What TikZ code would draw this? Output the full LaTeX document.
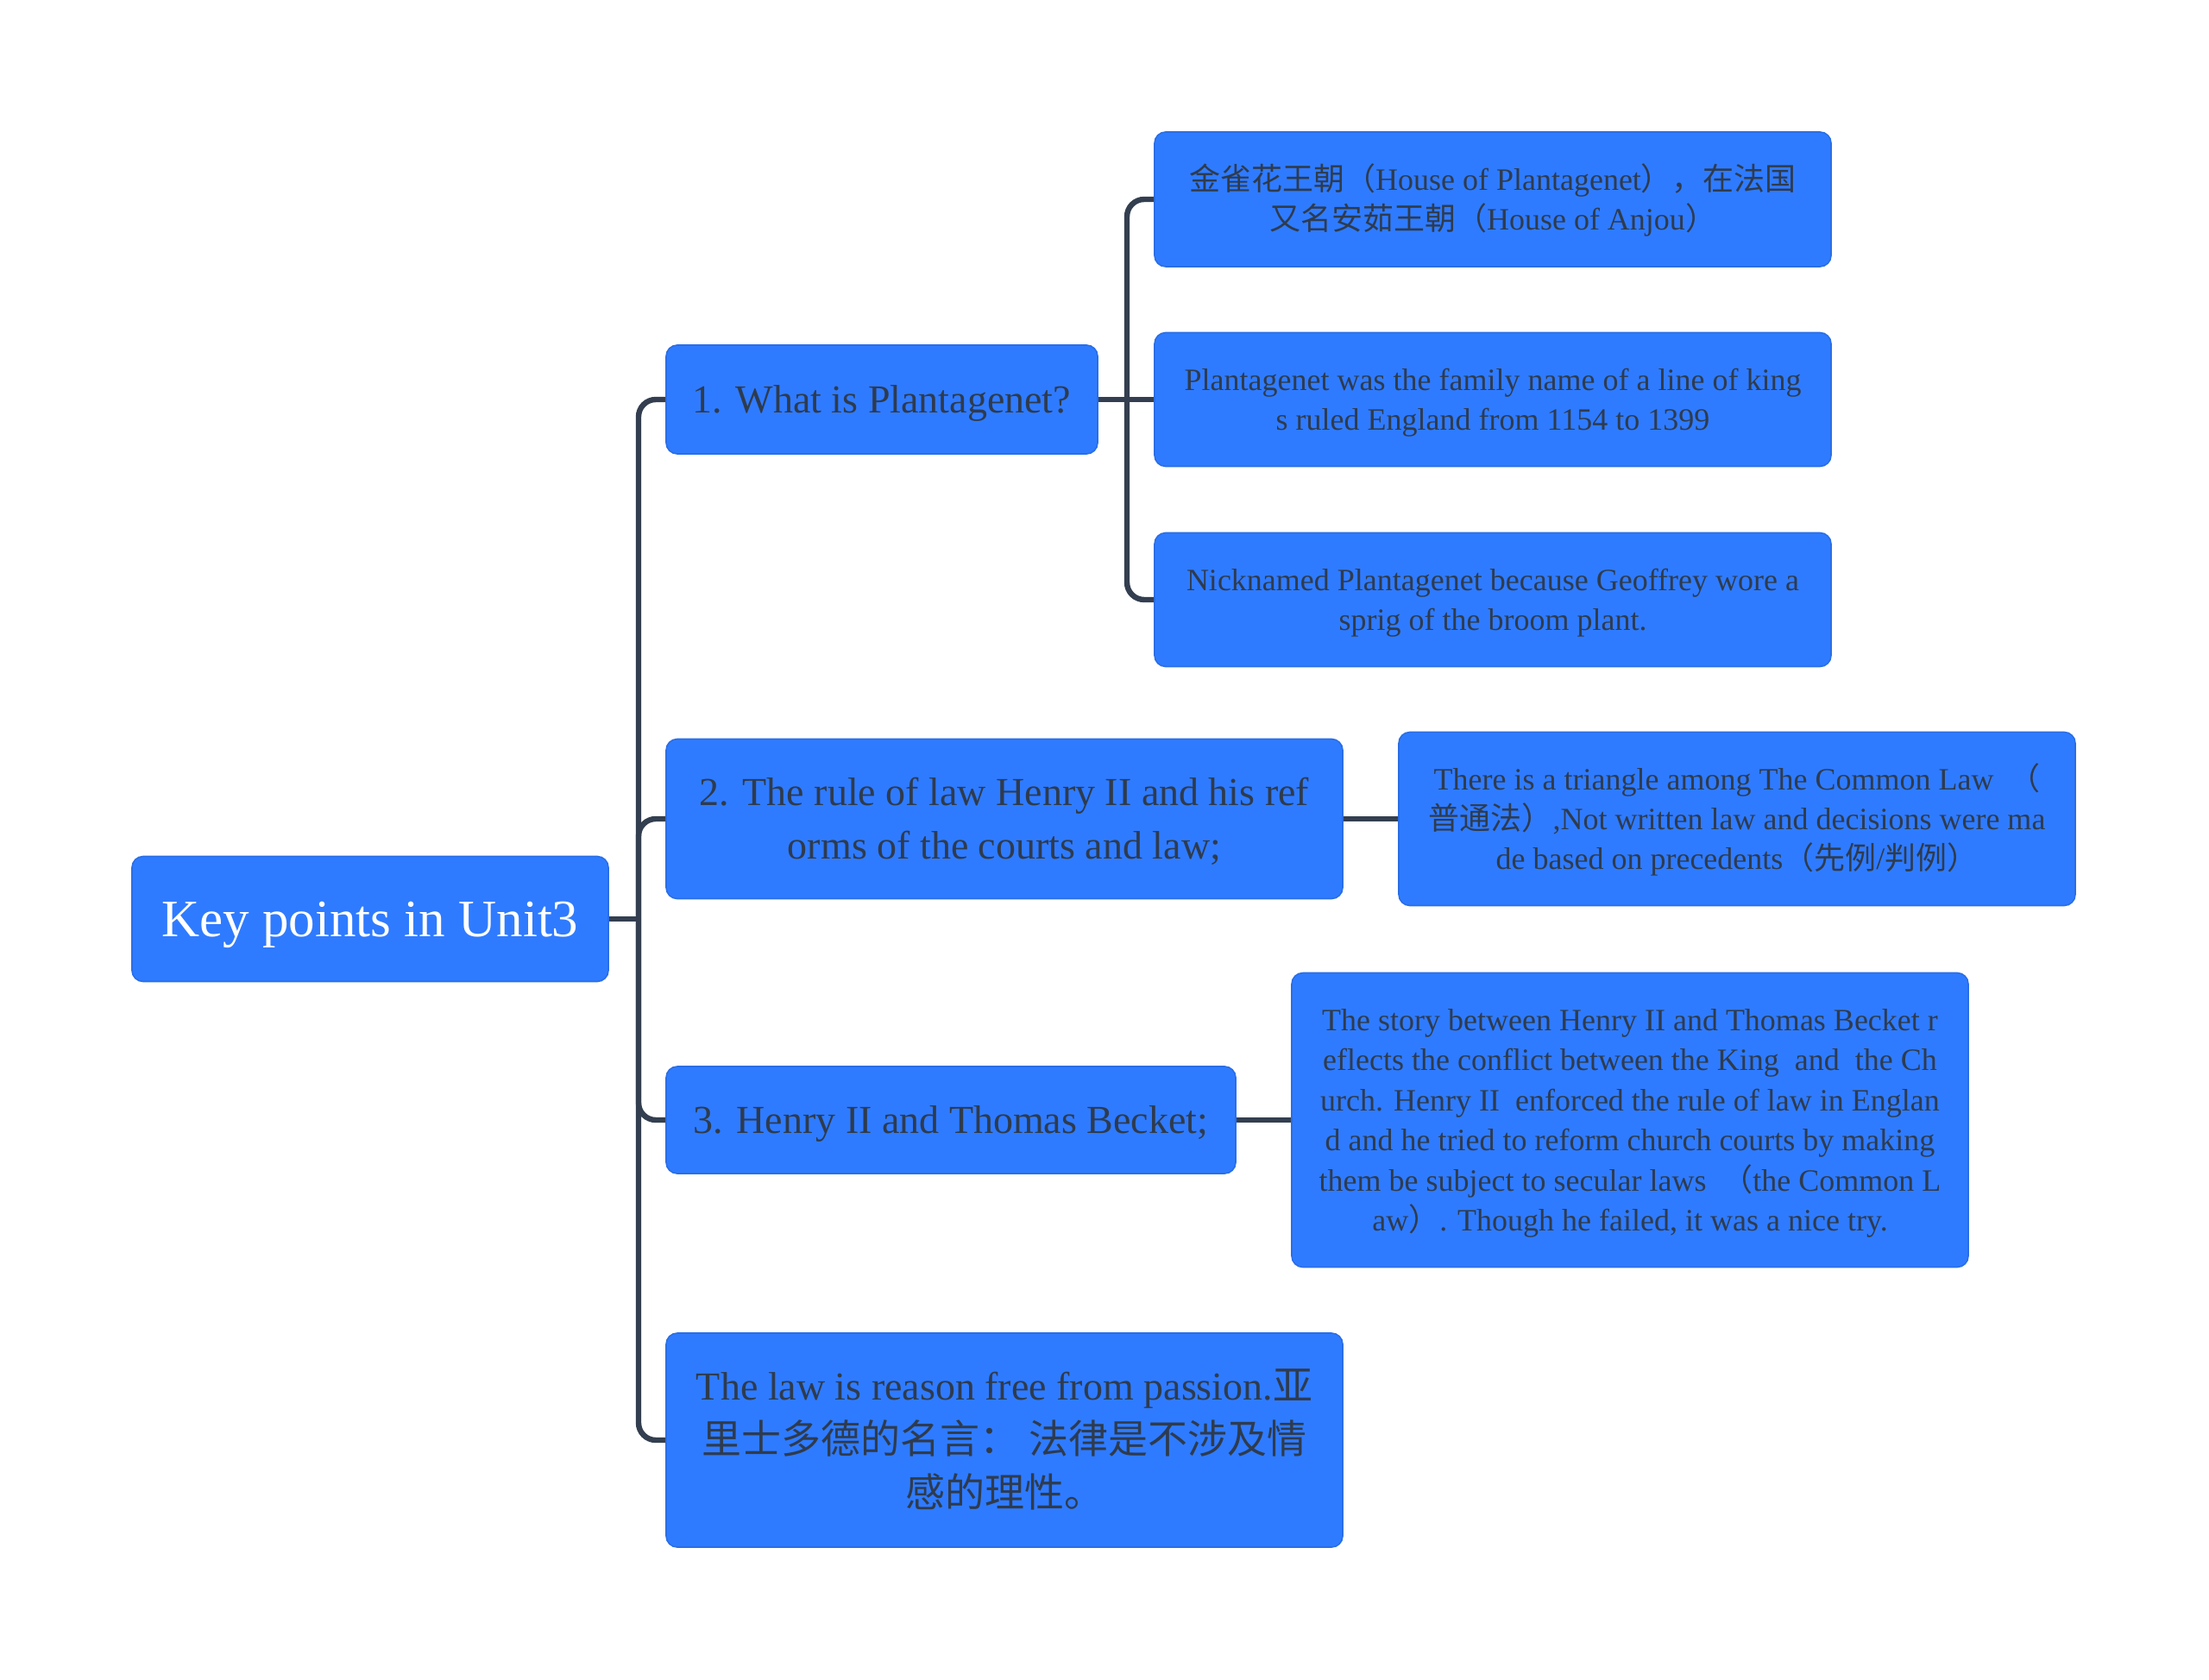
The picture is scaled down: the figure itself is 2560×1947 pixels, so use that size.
\documentclass[tikz,border=0pt]{standalone}
\usepackage{fontspec}
\setmainfont{Liberation Serif}
\newfontfamily\cjk{Noto Sans CJK SC}
\definecolor{boxblue}{HTML}{2F7BFF}
\definecolor{boxedge}{HTML}{2A6EE6}
\definecolor{inkdark}{HTML}{2E3B4E}
\definecolor{linkgray}{HTML}{333F50}
\newcommand\upstrut{\rule{0pt}{1em}}

\begin{document}
\begin{tikzpicture}[x=0.25pt,y=-0.25pt,
  box/.style={draw=boxedge,line width=0.4pt,fill=boxblue,rounded corners=3.2pt,
    inner sep=0pt,align=center,text=inkdark},
  rootbox/.style={box,text=white,font=\fontsize{15.25}{18}\selectfont,
    execute at begin node={\rule{0pt}{14.15pt}},
    execute at end node={\rule[-3.85pt]{0pt}{3.85pt}}},
  topic/.style={box,font=\fontsize{11.5}{15.5}\selectfont,
    execute at begin node={\rule{0pt}{11.63pt}},
    execute at end node={\rule[-3.87pt]{0pt}{3.87pt}}},
  leaf/.style={box,minimum width=196pt,font=\fontsize{9}{11.6}\selectfont,
    execute at begin node={\rule{0pt}{8.84pt}},
    execute at end node={\rule[-2.76pt]{0pt}{2.76pt}}},
  link/.style={draw=linkgray,line width=1.6pt,rounded corners=5pt}]
  \useasboundingbox (0,0) rectangle (2560,1947);

  \node[rootbox,minimum width=138pt,minimum height=36.25pt] (root) at (429,1065) {Key points in Unit3};

  \node[topic,minimum width=125pt,minimum height=31.5pt] (n1) at (1022,463) {1. What is Plantagenet?};
  \node[topic,minimum width=196pt,minimum height=46.25pt] (n2) at (1164,949)
    {\upstrut 2. The rule of law Henry II and his ref\\orms of the courts and law;};
  \node[topic,minimum width=165pt,minimum height=31pt] (n3) at (1102,1298) {3. Henry II and Thomas Becket;};
  \node[topic,minimum width=196pt,minimum height=62pt] (n4) at (1164,1669)
    {\upstrut The law is reason free from passion.{\cjk 亚}\\
     {\cjk 里士多德的名言：\ 法律是不涉及情}\\
     {\cjk 感的理性。}};

  \node[leaf,minimum height=39pt] (c1a) at (1730,231)
    {\upstrut{\cjk 金雀花王朝（}House of Plantagenet{\cjk ），在法国}\\
     {\cjk 又名安茹王朝（}House of Anjou{\cjk ）}};
  \node[leaf,minimum height=38.75pt] (c1b) at (1730,463)
    {\upstrut Plantagenet was the family name of a line of king\\s ruled England from 1154 to 1399};
  \node[leaf,minimum height=38.75pt] (c1c) at (1730,695)
    {\upstrut Nicknamed Plantagenet because Geoffrey wore a\\sprig of the broom plant.};
  \node[leaf,minimum height=50.25pt] (c2a) at (2013,949)
    {\upstrut There is a triangle among The Common Law \ {\cjk （}\\
     {\cjk 普通法）},Not written law and decisions were ma\\
     de based on precedents{\cjk （先例}/{\cjk 判例）}};
  \node[leaf,minimum height=85.25pt] (c3a) at (1889,1298)
    {\upstrut The story between Henry II and Thomas Becket r\\
     eflects the conflict between the King \ and \ the Ch\\
     urch. Henry II \ enforced the rule of law in Englan\\
     d and he tried to reform church courts by making\\
     them be subject to secular laws \ {\cjk （}the Common L\\
     aw{\cjk ）}. Though he failed, it was a nice try.};

  % trunk from the root
  \coordinate (trunk) at (740,1065);
  \draw[link] (root.east) -- (trunk);
  \foreach \t in {n1,n2,n3,n4}
    \draw[link] (trunk) |- (\t.west);

  % fork of the first topic
  \coordinate (fork1) at (1306,463);
  \draw[link] (n1.east) -- (c1b.west);
  \foreach \c in {c1a,c1c}
    \draw[link] (fork1) |- (\c.west);

  \draw[link] (n2.east) -- (c2a.west);
  \draw[link] (n3.east) -- (c3a.west);
\end{tikzpicture}
\end{document}
